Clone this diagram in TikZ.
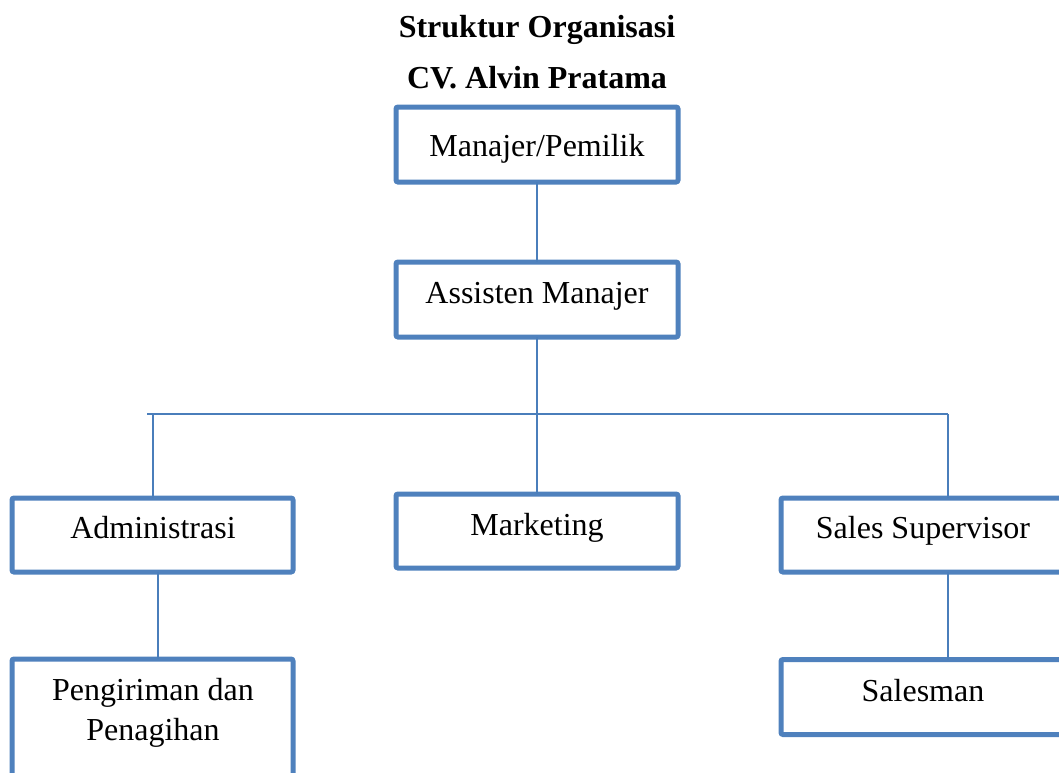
\documentclass[tikz,border=0pt]{standalone}
\usepackage{fontspec}
\setmainfont{Liberation Serif}
\definecolor{boxblue}{RGB}{79,129,189}
\definecolor{lineblue}{RGB}{74,126,187}
\begin{document}
\begin{tikzpicture}[x=1pt,y=-1pt,
  box/.style={draw=boxblue,line width=5pt,rounded corners=2pt,fill=white,
    minimum width=282pt,minimum height=75pt,inner sep=0pt,outer sep=0pt},
  txt/.style={anchor=base,font=\fontsize{32}{40}\selectfont,inner sep=0pt,align=center},
  ttl/.style={anchor=base,font=\fontsize{32}{40}\selectfont\bfseries,inner sep=0pt},
  conn/.style={draw=lineblue,line width=2pt}]
\useasboundingbox (0,0) rectangle (1059,772);
\clip (0,0) rectangle (1059,772);
% title
\node[ttl] (t1) at (537,37) {Struktur Organisasi};
\node[ttl] (t2) at (537,88) {CV. Alvin Pratama};
% boxes
\node[box] (A) at (537,144.5) {};
\node[box] (B) at (537,299.5) {};
\node[box,minimum width=281pt,minimum height=74pt] (C) at (152.5,535) {};
\node[box,minimum height=74pt] (D) at (537,531) {};
\node[box,minimum height=74pt] (E) at (922,535) {};
\node[box,minimum width=281pt,minimum height=131pt] (F) at (152.5,724.5) {};
\node[box] (G) at (922,697) {};
% labels
\node[txt] (tA) at (537,156) {Manajer/Pemilik};
\node[txt] (tB) at (537,303) {Assisten Manajer};
\node[txt] (tC) at (153,538) {Administrasi};
\node[txt] (tD) at (537,535) {Marketing};
\node[txt] (tE) at (923,538) {Sales Supervisor};
\node[txt] (tF) at (153,740) {Pengiriman dan\\Penagihan};
\node[txt] (tG) at (923,701) {Salesman};
% connectors
\coordinate (busL) at (147,414);
\coordinate (busR) at (948,414);
\draw[conn] (A.south) -- (B.north);
\draw[conn] (B.south) -- (D.north);
\draw[conn] (busL) -- (busR);
\draw[conn] (C.north |- busL) -- (C.north);
\draw[conn] (busR) -- (busR |- E.north);
\draw[conn] ([xshift=5.5pt]C.south) -- ([xshift=5.5pt]C.south |- F.north);
\draw[conn] (E.south -| busR) -- (G.north -| busR);
\end{tikzpicture}
\end{document}
